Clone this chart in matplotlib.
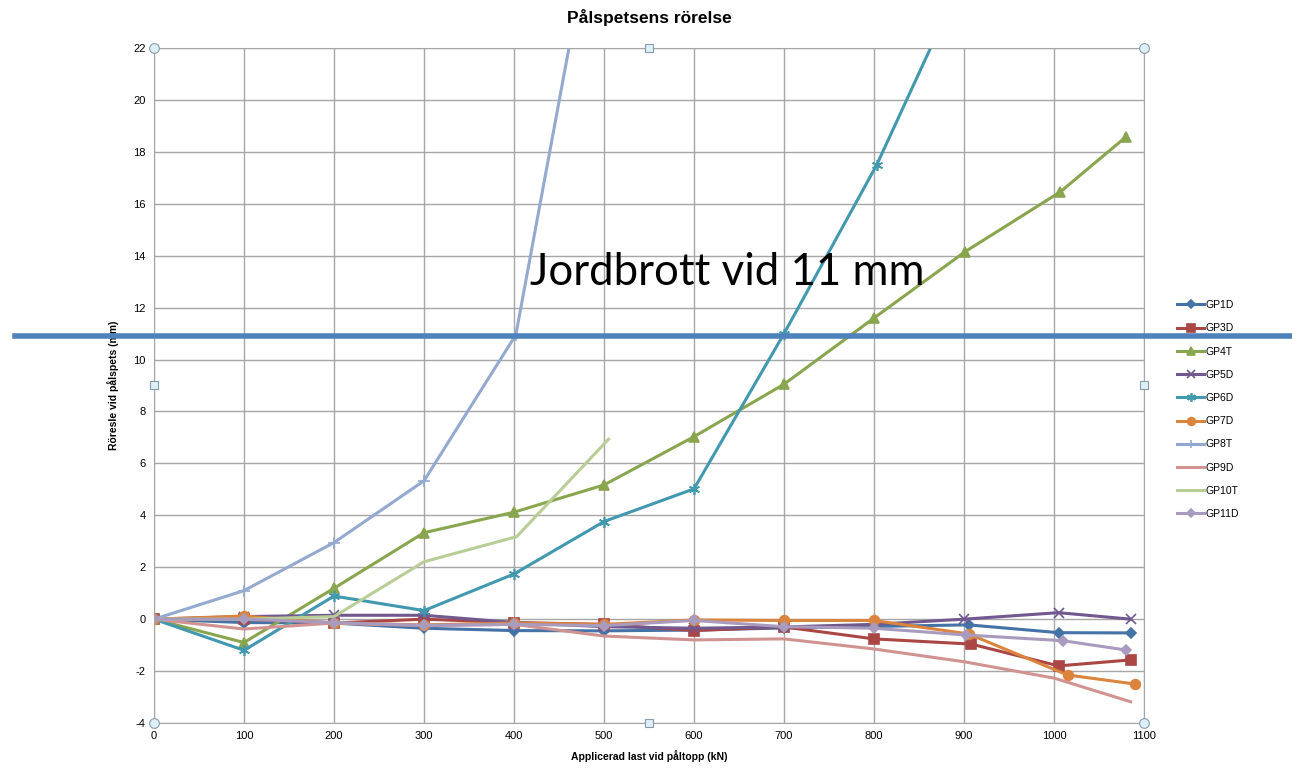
import matplotlib
matplotlib.use('Agg')
import matplotlib.pyplot as plt

# data (load kN, displacement mm)
series_names = ['GP1D', 'GP3D', 'GP4T', 'GP5D', 'GP6D', 'GP7D', 'GP8T', 'GP9D', 'GP10T', 'GP11D']

gp1d_x = [0, 100, 200, 300, 400, 500, 600, 700, 800, 905, 1005, 1085]
gp1d_y = [0, -0.13, -0.15, -0.35, -0.44, -0.45, -0.42, -0.34, -0.28, -0.22, -0.52, -0.53]

gp3d_x = [0, 100, 200, 300, 400, 500, 600, 700, 800, 908, 1005, 1085]
gp3d_y = [0, 0.0, -0.15, 0.0, -0.13, -0.2, -0.44, -0.3, -0.76, -0.96, -1.8, -1.57]

gp4t_x = [0, 100, 200, 300, 400, 500, 600, 700, 800, 901, 1007, 1080]
gp4t_y = [0, -0.9, 1.19, 3.33, 4.12, 5.17, 7.03, 9.05, 11.6, 14.15, 16.46, 18.58]

gp5d_x = [0, 100, 200, 300, 400, 500, 600, 700, 800, 900, 1005, 1085]
gp5d_y = [0, 0.1, 0.15, 0.15, -0.13, -0.29, -0.35, -0.3, -0.2, 0.0, 0.25, 0.0]

gp6d_x = [0, 100, 200, 300, 400, 500, 600, 700, 803, 900]
gp6d_y = [0, -1.2, 0.89, 0.33, 1.74, 3.76, 5.02, 11.0, 17.5, 24.8]

gp7d_x = [0, 100, 200, 300, 400, 500, 600, 700, 800, 905, 1015, 1090]
gp7d_y = [0, 0.12, -0.15, -0.22, -0.15, -0.2, -0.03, -0.05, -0.05, -0.57, -2.15, -2.5]

gp8t_x = [0, 100, 200, 300, 402, 500]
gp8t_y = [0, 1.1, 2.95, 5.33, 10.95, 29.3]

gp9d_x = [0, 100, 200, 300, 400, 500, 600, 700, 800, 900, 1000, 1085]
gp9d_y = [0, -0.38, -0.15, -0.25, -0.2, -0.65, -0.8, -0.76, -1.15, -1.64, -2.27, -3.18]

gp10t_x = [0, 100, 200, 300, 403, 505]
gp10t_y = [0, 0.0, 0.1, 2.21, 3.18, 6.93]

gp11d_x = [0, 100, 200, 300, 400, 500, 600, 700, 800, 902, 1010, 1080]
gp11d_y = [0, 0.0, -0.13, -0.24, -0.2, -0.25, -0.05, -0.29, -0.35, -0.61, -0.83, -1.19]

limit_mm = 10.9

xs = [gp1d_x, gp3d_x, gp4t_x, gp5d_x, gp6d_x, gp7d_x, gp8t_x, gp9d_x, gp10t_x, gp11d_x]
ys = [gp1d_y, gp3d_y, gp4t_y, gp5d_y, gp6d_y, gp7d_y, gp8t_y, gp9d_y, gp10t_y, gp11d_y]

colors = ['#4572A7', '#AA4643', '#89A54E', '#71588F', '#4198AF',
          '#DB843D', '#93A9CF', '#D19392', '#B9CD96', '#A99BBD']
markers = ['D', 's', '^', 'x', (6, 2, 0), 'o', '+', None, None, 'D']
msizes = [5, 7, 7, 7, 8, 7, 8, 0, 0, 5]

plt.rcParams['font.family'] = ['Liberation Sans', 'DejaVu Sans']
plt.rcParams['axes.unicode_minus'] = False

fig = plt.figure(figsize=(12.92, 7.69), dpi=100)
ax = fig.add_axes([0.1192, 0.0598, 0.7663, 0.8778])

for name, x, y, c, m, ms in zip(series_names, xs, ys, colors, markers, msizes):
    ax.plot(x, y, color=c, lw=2.2, marker=m, markersize=ms,
            markeredgewidth=1.2, label=name)

ax.set_xlim(0, 1100)
ax.set_ylim(-4, 22)
ax.set_xticks(range(0, 1101, 100))
ax.set_yticks(range(-4, 23, 2))
ax.grid(True, color='#A6A6A6', lw=1)
ax.set_axisbelow(True)
ax.tick_params(length=0, labelsize=8, pad=6)
for s in ax.spines.values():
    s.set_color('#A6A6A6')

ax.set_title('Pålspetsens rörelse', fontsize=12.5, fontweight='bold', pad=18)
ax.set_xlabel('Applicerad last vid påltopp (kN)', fontsize=7.5, fontweight='bold', labelpad=6)
ax.set_ylabel('Röresle vid pålspets (mm)', fontsize=7.5, fontweight='bold', labelpad=10)

# failure limit line, drawn across the whole picture
ax.axhline(limit_mm, xmin=-0.14, xmax=1.16, color='#4F81BD', lw=4, clip_on=False, zorder=5)
fig.text(0.563, 0.646, 'Jordbrott vid 11 mm', fontsize=31.5, ha='center', va='center',
         family=['Lato', 'DejaVu Sans'])

# selection handles around the chart area
hx = [0, 1, 0, 1]
hy = [0, 0, 1, 1]
ax.plot(hx, hy, 'o', transform=ax.transAxes, clip_on=False, ms=7,
        mfc='#DDEFF7', mec='#8A9BA8', mew=0.8, zorder=6)
sx = [0.5, 0.5, 0, 1]
sy = [0, 1, 0.5, 0.5]
ax.plot(sx, sy, 's', transform=ax.transAxes, clip_on=False, ms=5.5,
        mfc='#DDEFF7', mec='#8A9BA8', mew=0.8, zorder=6)

fig.legend(loc='upper left', bbox_to_anchor=(0.904, 0.622), frameon=False,
           fontsize=7.5, handlelength=2.6, labelspacing=1.27, handletextpad=0.15,
           markerscale=0.8)

fig.savefig('out.png', dpi=100)
